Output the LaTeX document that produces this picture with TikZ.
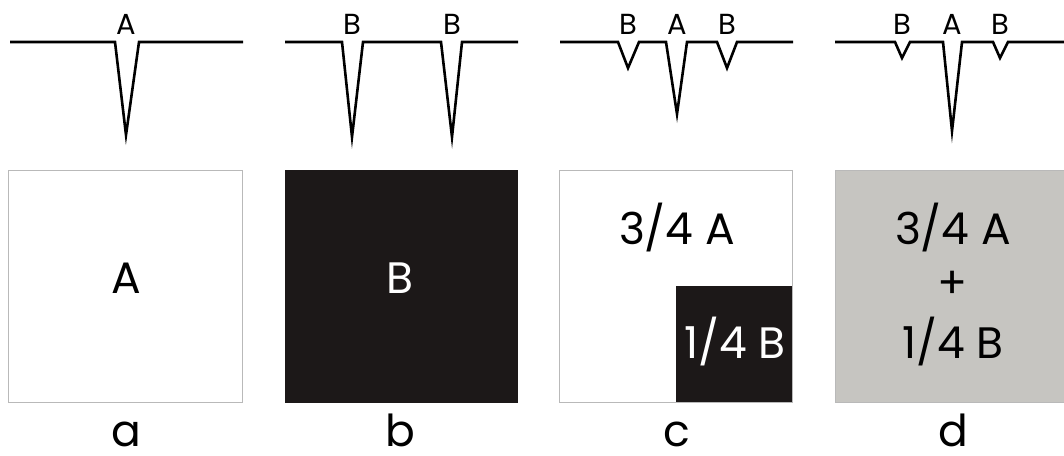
\documentclass[tikz,border=0pt]{standalone}
\usepackage{fontspec}
\setmainfont{Poppins}
\definecolor{mixgray}{RGB}{198,197,193}
\definecolor{boxblack}{RGB}{28,24,24}
\begin{document}
\begin{tikzpicture}[x=1pt,y=-1pt,
  trace/.style={line width=2.6pt, line join=miter, miter limit=30},
  peaklabel/.style={inner sep=0pt, font=\fontsize{29}{30}\selectfont},
  bigtext/.style={inner sep=0pt, font=\fontsize{44}{48}\selectfont},
  caption/.style={inner sep=0pt, anchor=base, font=\fontsize{44}{48}\selectfont},
  frame/.style={draw=gray!55, line width=0.9pt}]
\useasboundingbox (0,0) rectangle (1064,455);
% traces
\draw[trace] (10,42) -- (115,42) -- (126,135) -- (139,42) -- (243,42);
\draw[trace] (285,42) -- (342,42) -- (352,137) -- (363,42) -- (441,42) -- (452,137) -- (462,42) -- (518,42);
\draw[trace] (560,42) -- (618,42) -- (628,68) -- (639,42) -- (666,42) -- (677,114) -- (687,42) -- (717,42) -- (727,68) -- (737,42) -- (793,42);
\draw[trace] (835,42) -- (895,42) -- (902,58) -- (910,42) -- (943,42) -- (952,131) -- (962,42) -- (993,42) -- (1000,58) -- (1008,42) -- (1066,42);
% peak labels
\node[peaklabel] (la) at (126,24) {A};
\node[peaklabel] (lb1) at (352,24) {B};
\node[peaklabel] (lb2) at (452,24) {B};
\node[peaklabel] (lc1) at (628,24) {B};
\node[peaklabel] (lc2) at (677,24) {A};
\node[peaklabel] (lc3) at (727,24) {B};
\node[peaklabel] (ld1) at (902,24) {B};
\node[peaklabel] (ld2) at (952,24) {A};
\node[peaklabel] (ld3) at (1000,24) {B};
% boxes
\filldraw[fill=white, frame] (8,170) rectangle (242,402);
\filldraw[fill=boxblack, draw=boxblack] (285,170) rectangle (517,402);
\filldraw[fill=white, frame] (559,170) rectangle (792,402);
\fill[boxblack] (676,286) rectangle (792,402);
\filldraw[fill=mixgray, frame] (835,170) rectangle (1066,402);
% box texts
\node[bigtext] (ta) at (126,278) {A};
\node[bigtext, text=white] (tb) at (400,278) {B};
\node[bigtext] (tc1) at (677,228) {3/4 A};
\node[bigtext, text=white] (tc2) at (735,342) {1/4 B};
\node[bigtext] (td1) at (953,228) {3/4 A};
\node[bigtext] (td2) at (953,285) {+};
\node[bigtext] (td3) at (953,342) {1/4 B};
% captions
\node[caption] (ca) at (126,446) {a};
\node[caption] (cb) at (400,446) {b};
\node[caption] (cc) at (677,446) {c};
\node[caption] (cd) at (953,446) {d};
\end{tikzpicture}
\end{document}
